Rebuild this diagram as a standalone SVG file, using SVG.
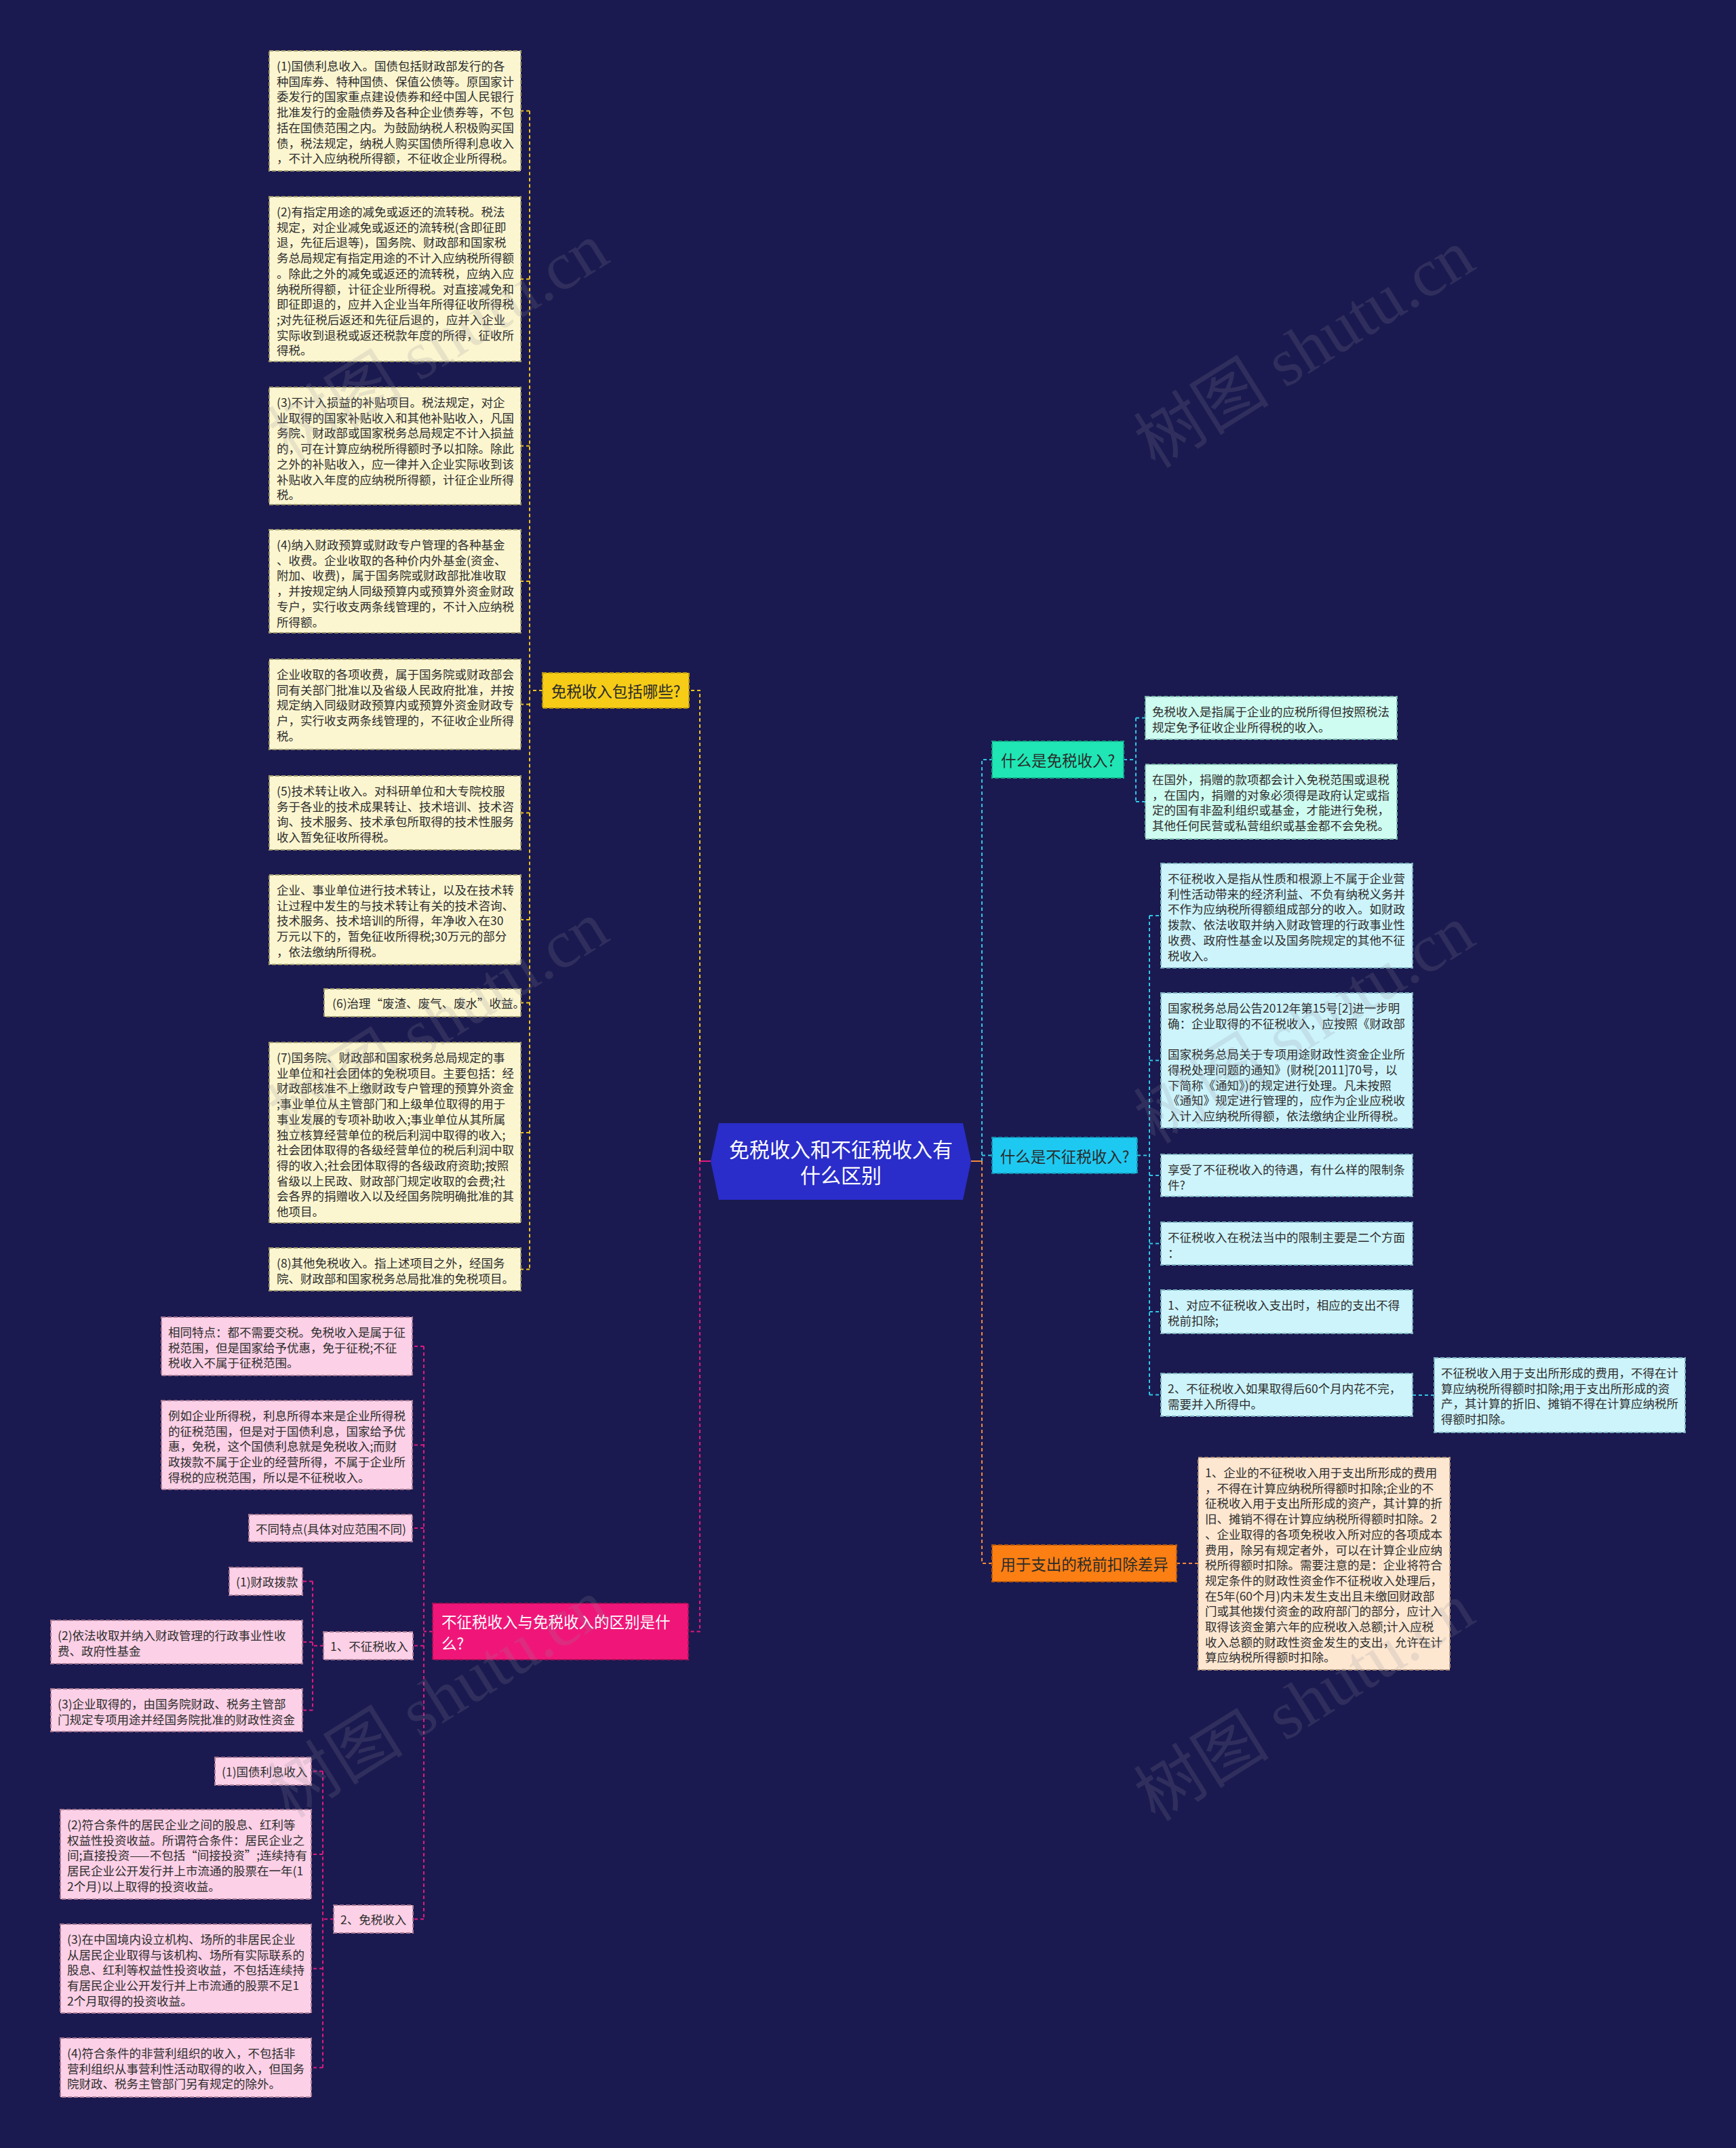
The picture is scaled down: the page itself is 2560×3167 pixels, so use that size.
<svg xmlns="http://www.w3.org/2000/svg" width="2560" height="3167" viewBox="0 0 2560 3167">
<style>
.t{font-family:"Noto Sans CJK SC","Noto Sans",sans-serif;font-size:17.5px;fill:#2e2e2e;dominant-baseline:central}
.n{font-family:"Noto Sans CJK SC","Noto Sans",sans-serif;font-size:22.5px;fill:#2a2a2a;dominant-baseline:central}
.box{stroke-width:2;stroke-dasharray:6 3}
.yb{fill:#fcf6d0;stroke:#a39c6e}
.tb{fill:#cefcf0;stroke:#7fb9ab}
.cb{fill:#cdf4fb;stroke:#7eb3c0}
.ob{fill:#fde7d1;stroke:#b89a80}
.pb{fill:#fcd0e6;stroke:#a87a94}
.c{fill:none;stroke-width:2;stroke-dasharray:5 4}
.cy{stroke:#f0c419}
.cc{stroke:#2ec6e6}
.co{stroke:#f2883a}
.cp{stroke:#e2197e}
.wm{font-family:"Liberation Serif","Noto Sans CJK SC",serif;font-size:100px;fill:#8c8c9c;opacity:0.18}
</style>
<rect x="0" y="0" width="2560" height="3167" fill="#1b1a50"/>

<g id="connectors">
  <!-- center stubs -->
  <path d="M1048,1712 H1032" stroke="#e2197e" stroke-width="2" fill="none"/>
  <path d="M1432,1712 H1448" stroke="#f2883a" stroke-width="2" fill="none"/>
  <!-- yellow branch -->
  <path class="c cy" d="M1032,1712 V1018 H1016"/>
  <path class="c cy" d="M800,1018 H781"/>
  <path class="c cy" d="M781,163.5 V1871.5"/>
  <path class="c cy" d="M781,163.5 H768 M781,411.5 H768 M781,657.5 H768 M781,857 H768 M781,1038.5 H768 M781,1198.5 H768 M781,1356 H768 M781,1478.5 H768 M781,1670 H768 M781,1871.5 H768"/>
  <!-- pink branch -->
  <path class="c cp" d="M1032,1712 V2405.5 H1015"/>
  <path class="c cp" d="M638,2405.5 H625"/>
  <path class="c cp" d="M625,1985 V2829.5"/>
  <path class="c cp" d="M625,1985 H608 M625,2130.5 H608 M625,2253 H608 M625,2426.5 H609 M625,2829.5 H609"/>
  <path class="c cp" d="M477,2426.5 H461 M461,2331.5 V2521.5 M461,2331.5 H446 M461,2421 H446 M461,2521.5 H446"/>
  <path class="c cp" d="M492,2829.5 H476 M476,2611.5 V3048.5 M476,2611.5 H459 M476,2734 H459 M476,2902.5 H459 M476,3048.5 H459"/>
  <!-- right cyan -->
  <path class="c cc" d="M1448,1712 V1120 H1463"/>
  <path class="c cc" d="M1448,1703.5 H1463"/>
  <path class="c cc" d="M1657,1120 H1675 M1675,1058.5 V1182 M1675,1058.5 H1689 M1675,1182 H1689"/>
  <path class="c cc" d="M1677,1703.5 H1695 M1695,1350 V2056.5 M1695,1350 H1712 M1695,1563.5 H1712 M1695,1733 H1712 M1695,1833.5 H1712 M1695,1934 H1712 M1695,2056.5 H1712 M2083,2057 H2115"/>
  <!-- right orange -->
  <path class="c co" d="M1448,1712 V2305 H1463"/>
  <path class="c co" d="M1735,2305 H1767"/>
</g>

<g id="center">
  <polygon points="1048,1712 1060,1656 1420,1656 1432,1712 1420,1769 1060,1769" fill="#2a2dc9"/>
  <text font-family="Noto Sans CJK SC, sans-serif" font-size="30" fill="#ffffff" text-anchor="middle" dominant-baseline="central"><tspan x="1240" y="1693">免税收入和不征税收入有</tspan><tspan x="1240" y="1731">什么区别</tspan></text>
</g>

<g id="n-yellow">
  <rect x="800" y="992" width="216" height="52" fill="#f6cc17" class="box" stroke="#b39412"/>
  <text class="n" x="908" y="1018" text-anchor="middle">免税收入包括哪些?</text>
</g>
<g id="y1"><rect class="box yb" x="397" y="75" width="371" height="177"/>
<text class="t"><tspan x="408" y="96">(1)国债利息收入。国债包括财政部发行的各</tspan><tspan x="408" dy="22.7">种国库券、特种国债、保值公债等。原国家计</tspan><tspan x="408" dy="22.7">委发行的国家重点建设债券和经中国人民银行</tspan><tspan x="408" dy="22.7">批准发行的金融债券及各种企业债券等，不包</tspan><tspan x="408" dy="22.7">括在国债范围之内。为鼓励纳税人积极购买国</tspan><tspan x="408" dy="22.7">债，税法规定，纳税人购买国债所得利息收入</tspan><tspan x="408" dy="22.7">，不计入应纳税所得额，不征收企业所得税。</tspan></text></g>
<g id="y2"><rect class="box yb" x="397" y="290" width="371" height="243"/>
<text class="t"><tspan x="408" y="311">(2)有指定用途的减免或返还的流转税。税法</tspan><tspan x="408" dy="22.7">规定，对企业减免或返还的流转税(含即征即</tspan><tspan x="408" dy="22.7">退，先征后退等)，国务院、财政部和国家税</tspan><tspan x="408" dy="22.7">务总局规定有指定用途的不计入应纳税所得额</tspan><tspan x="408" dy="22.7">。除此之外的减免或返还的流转税，应纳入应</tspan><tspan x="408" dy="22.7">纳税所得额，计征企业所得税。对直接减免和</tspan><tspan x="408" dy="22.7">即征即退的，应并入企业当年所得征收所得税</tspan><tspan x="408" dy="22.7">;对先征税后返还和先征后退的，应并入企业</tspan><tspan x="408" dy="22.7">实际收到退税或返还税款年度的所得，征收所</tspan><tspan x="408" dy="22.7">得税。</tspan></text></g>
<g id="y3"><rect class="box yb" x="397" y="571" width="371" height="173"/>
<text class="t"><tspan x="408" y="592">(3)不计入损益的补贴项目。税法规定，对企</tspan><tspan x="408" dy="22.7">业取得的国家补贴收入和其他补贴收入，凡国</tspan><tspan x="408" dy="22.7">务院、财政部或国家税务总局规定不计入损益</tspan><tspan x="408" dy="22.7">的，可在计算应纳税所得额时予以扣除。除此</tspan><tspan x="408" dy="22.7">之外的补贴收入，应一律并入企业实际收到该</tspan><tspan x="408" dy="22.7">补贴收入年度的应纳税所得额，计征企业所得</tspan><tspan x="408" dy="22.7">税。</tspan></text></g>
<g id="y4"><rect class="box yb" x="397" y="781" width="371" height="152"/>
<text class="t"><tspan x="408" y="802">(4)纳入财政预算或财政专户管理的各种基金</tspan><tspan x="408" dy="22.7">、收费。企业收取的各种价内外基金(资金、</tspan><tspan x="408" dy="22.7">附加、收费)，属于国务院或财政部批准收取</tspan><tspan x="408" dy="22.7">，并按规定纳人同级预算内或预算外资金财政</tspan><tspan x="408" dy="22.7">专户，实行收支两条线管理的，不计入应纳税</tspan><tspan x="408" dy="22.7">所得额。</tspan></text></g>
<g id="y5"><rect class="box yb" x="397" y="972" width="371" height="133"/>
<text class="t"><tspan x="408" y="993">企业收取的各项收费，属于国务院或财政部会</tspan><tspan x="408" dy="22.7">同有关部门批准以及省级人民政府批准，并按</tspan><tspan x="408" dy="22.7">规定纳入同级财政预算内或预算外资金财政专</tspan><tspan x="408" dy="22.7">户，实行收支两条线管理的，不征收企业所得</tspan><tspan x="408" dy="22.7">税。</tspan></text></g>
<g id="y6"><rect class="box yb" x="397" y="1144" width="371" height="109"/>
<text class="t"><tspan x="408" y="1165">(5)技术转让收入。对科研单位和大专院校服</tspan><tspan x="408" dy="22.7">务于各业的技术成果转让、技术培训、技术咨</tspan><tspan x="408" dy="22.7">询、技术服务、技术承包所取得的技术性服务</tspan><tspan x="408" dy="22.7">收入暂免征收所得税。</tspan></text></g>
<g id="y7"><rect class="box yb" x="397" y="1290" width="371" height="132"/>
<text class="t"><tspan x="408" y="1311">企业、事业单位进行技术转让，以及在技术转</tspan><tspan x="408" dy="22.7">让过程中发生的与技术转让有关的技术咨询、</tspan><tspan x="408" dy="22.7">技术服务、技术培训的所得，年净收入在30</tspan><tspan x="408" dy="22.7">万元以下的，暂免征收所得税;30万元的部分</tspan><tspan x="408" dy="22.7">，依法缴纳所得税。</tspan></text></g>
<g id="y8"><rect class="box yb" x="478" y="1458" width="290" height="41"/>
<text class="t" x="490" y="1478.5">(6)治理“废渣、废气、废水”收益。</text></g>
<g id="y9"><rect class="box yb" x="397" y="1537" width="371" height="266"/>
<text class="t"><tspan x="408" y="1558">(7)国务院、财政部和国家税务总局规定的事</tspan><tspan x="408" dy="22.7">业单位和社会团体的免税项目。主要包括：经</tspan><tspan x="408" dy="22.7">财政部核准不上缴财政专户管理的预算外资金</tspan><tspan x="408" dy="22.7">;事业单位从主管部门和上级单位取得的用于</tspan><tspan x="408" dy="22.7">事业发展的专项补助收入;事业单位从其所属</tspan><tspan x="408" dy="22.7">独立核算经营单位的税后利润中取得的收入;</tspan><tspan x="408" dy="22.7">社会团体取得的各级经营单位的税后利润中取</tspan><tspan x="408" dy="22.7">得的收入;社会团体取得的各级政府资助;按照</tspan><tspan x="408" dy="22.7">省级以上民政、财政部门规定收取的会费;社</tspan><tspan x="408" dy="22.7">会各界的捐赠收入以及经国务院明确批准的其</tspan><tspan x="408" dy="22.7">他项目。</tspan></text></g>
<g id="y10"><rect class="box yb" x="397" y="1840" width="371" height="63"/>
<text class="t"><tspan x="408" y="1861">(8)其他免税收入。指上述项目之外，经国务</tspan><tspan x="408" dy="22.7">院、财政部和国家税务总局批准的免税项目。</tspan></text></g>

<g id="n-teal">
  <rect x="1463" y="1093" width="194" height="54" fill="#1fe6b4" class="box" stroke="#16a884"/>
  <text class="n" x="1560" y="1120" text-anchor="middle">什么是免税收入?</text>
</g>
<g id="t1"><rect class="box tb" x="1689" y="1027" width="371" height="63"/>
<text class="t"><tspan x="1699" y="1048">免税收入是指属于企业的应税所得但按照税法</tspan><tspan x="1699" dy="22.7">规定免予征收企业所得税的收入。</tspan></text></g>
<g id="t2"><rect class="box tb" x="1689" y="1127" width="371" height="110"/>
<text class="t"><tspan x="1699" y="1148">在国外，捐赠的款项都会计入免税范围或退税</tspan><tspan x="1699" dy="22.7">，在国内，捐赠的对象必须得是政府认定或指</tspan><tspan x="1699" dy="22.7">定的国有非盈利组织或基金，才能进行免税，</tspan><tspan x="1699" dy="22.7">其他任何民营或私营组织或基金都不会免税。</tspan></text></g>

<g id="n-cyan">
  <rect x="1463" y="1677" width="214" height="53" fill="#1ec9f1" class="box" stroke="#1490b0"/>
  <text class="n" x="1570" y="1703.5" text-anchor="middle">什么是不征税收入?</text>
</g>
<g id="c1"><rect class="box cb" x="1712" y="1273" width="371" height="154"/>
<text class="t"><tspan x="1722" y="1294">不征税收入是指从性质和根源上不属于企业营</tspan><tspan x="1722" dy="22.7">利性活动带来的经济利益、不负有纳税义务并</tspan><tspan x="1722" dy="22.7">不作为应纳税所得额组成部分的收入。如财政</tspan><tspan x="1722" dy="22.7">拨款、依法收取并纳入财政管理的行政事业性</tspan><tspan x="1722" dy="22.7">收费、政府性基金以及国务院规定的其他不征</tspan><tspan x="1722" dy="22.7">税收入。</tspan></text></g>
<g id="c2"><rect class="box cb" x="1712" y="1464" width="371" height="199"/>
<text class="t"><tspan x="1722" y="1485">国家税务总局公告2012年第15号[2]进一步明</tspan><tspan x="1722" dy="22.7">确：企业取得的不征税收入，应按照《财政部</tspan><tspan x="1722" dy="45.4">国家税务总局关于专项用途财政性资金企业所</tspan><tspan x="1722" dy="22.7">得税处理问题的通知》(财税[2011]70号，以</tspan><tspan x="1722" dy="22.7">下简称《通知》)的规定进行处理。凡未按照</tspan><tspan x="1722" dy="22.7">《通知》规定进行管理的，应作为企业应税收</tspan><tspan x="1722" dy="22.7">入计入应纳税所得额，依法缴纳企业所得税。</tspan></text></g>
<g id="c3"><rect class="box cb" x="1712" y="1702" width="371" height="62"/>
<text class="t"><tspan x="1722" y="1723">享受了不征税收入的待遇，有什么样的限制条</tspan><tspan x="1722" dy="22.7">件?</tspan></text></g>
<g id="c4"><rect class="box cb" x="1712" y="1802" width="371" height="63"/>
<text class="t"><tspan x="1722" y="1823">不征税收入在税法当中的限制主要是二个方面</tspan><tspan x="1722" dy="22.7">：</tspan></text></g>
<g id="c5"><rect class="box cb" x="1712" y="1902" width="371" height="64"/>
<text class="t"><tspan x="1722" y="1923">1、对应不征税收入支出时，相应的支出不得</tspan><tspan x="1722" dy="22.7">税前扣除;</tspan></text></g>
<g id="c6"><rect class="box cb" x="1712" y="2025" width="371" height="63"/>
<text class="t"><tspan x="1722" y="2046">2、不征税收入如果取得后60个月内花不完，</tspan><tspan x="1722" dy="22.7">需要并入所得中。</tspan></text></g>
<g id="c7"><rect class="box cb" x="2115" y="2002" width="370" height="110"/>
<text class="t"><tspan x="2125" y="2023">不征税收入用于支出所形成的费用，不得在计</tspan><tspan x="2125" dy="22.7">算应纳税所得额时扣除;用于支出所形成的资</tspan><tspan x="2125" dy="22.7">产，其计算的折旧、摊销不得在计算应纳税所</tspan><tspan x="2125" dy="22.7">得额时扣除。</tspan></text></g>

<g id="n-orange">
  <rect x="1463" y="2278" width="272" height="54" fill="#fb7f13" class="box" stroke="#b85a0c"/>
  <text class="n" x="1599" y="2305" text-anchor="middle">用于支出的税前扣除差异</text>
</g>
<g id="o1"><rect class="box ob" x="1767" y="2149" width="371" height="313"/>
<text class="t"><tspan x="1777" y="2170">1、企业的不征税收入用于支出所形成的费用</tspan><tspan x="1777" dy="22.7">，不得在计算应纳税所得额时扣除;企业的不</tspan><tspan x="1777" dy="22.7">征税收入用于支出所形成的资产，其计算的折</tspan><tspan x="1777" dy="22.7">旧、摊销不得在计算应纳税所得额时扣除。2</tspan><tspan x="1777" dy="22.7">、企业取得的各项免税收入所对应的各项成本</tspan><tspan x="1777" dy="22.7">费用，除另有规定者外，可以在计算企业应纳</tspan><tspan x="1777" dy="22.7">税所得额时扣除。需要注意的是：企业将符合</tspan><tspan x="1777" dy="22.7">规定条件的财政性资金作不征税收入处理后，</tspan><tspan x="1777" dy="22.7">在5年(60个月)内未发生支出且未缴回财政部</tspan><tspan x="1777" dy="22.7">门或其他拨付资金的政府部门的部分，应计入</tspan><tspan x="1777" dy="22.7">取得该资金第六年的应税收入总额;计入应税</tspan><tspan x="1777" dy="22.7">收入总额的财政性资金发生的支出，允许在计</tspan><tspan x="1777" dy="22.7">算应纳税所得额时扣除。</tspan></text></g>

<g id="n-pink">
  <rect x="638" y="2364" width="377" height="83" fill="#f01679" class="box" stroke="#a80e54"/>
  <text class="n" style="fill:#ffffff"><tspan x="651" y="2390">不征税收入与免税收入的区别是什</tspan><tspan x="651" y="2422">么?</tspan></text>
</g>
<g id="p1"><rect class="box pb" x="238" y="1942" width="370" height="86"/>
<text class="t"><tspan x="248" y="1963">相同特点：都不需要交税。免税收入是属于征</tspan><tspan x="248" dy="22.7">税范围，但是国家给予优惠，免于征税;不征</tspan><tspan x="248" dy="22.7">税收入不属于征税范围。</tspan></text></g>
<g id="p2"><rect class="box pb" x="238" y="2065" width="370" height="131"/>
<text class="t"><tspan x="248" y="2086">例如企业所得税，利息所得本来是企业所得税</tspan><tspan x="248" dy="22.7">的征税范围，但是对于国债利息，国家给予优</tspan><tspan x="248" dy="22.7">惠，免税，这个国债利息就是免税收入;而财</tspan><tspan x="248" dy="22.7">政拨款不属于企业的经营所得，不属于企业所</tspan><tspan x="248" dy="22.7">得税的应税范围，所以是不征税收入。</tspan></text></g>
<g id="p3"><rect class="box pb" x="367" y="2233" width="241" height="40"/>
<text class="t" x="377" y="2253">不同特点(具体对应范围不同)</text></g>
<g id="n1"><rect class="box pb" x="477" y="2406" width="132" height="41"/>
<text class="t" x="487" y="2426.5">1、不征税收入</text></g>
<g id="n1a"><rect class="box pb" x="338" y="2311" width="108" height="41"/>
<text class="t" x="348" y="2331.5">(1)财政拨款</text></g>
<g id="n1b"><rect class="box pb" x="75" y="2389" width="371" height="64"/>
<text class="t"><tspan x="85" y="2410">(2)依法收取并纳入财政管理的行政事业性收</tspan><tspan x="85" dy="22.7">费、政府性基金</tspan></text></g>
<g id="n1c"><rect class="box pb" x="75" y="2490" width="371" height="63"/>
<text class="t"><tspan x="85" y="2511">(3)企业取得的，由国务院财政、税务主管部</tspan><tspan x="85" dy="22.7">门规定专项用途并经国务院批准的财政性资金</tspan></text></g>
<g id="n2"><rect class="box pb" x="492" y="2809" width="117" height="41"/>
<text class="t" x="502" y="2829.5">2、免税收入</text></g>
<g id="n2a"><rect class="box pb" x="317" y="2591" width="142" height="41"/>
<text class="t" x="327" y="2611.5">(1)国债利息收入</text></g>
<g id="n2b"><rect class="box pb" x="89" y="2668" width="370" height="132"/>
<text class="t"><tspan x="99" y="2689">(2)符合条件的居民企业之间的股息、红利等</tspan><tspan x="99" dy="22.7">权益性投资收益。所谓符合条件：居民企业之</tspan><tspan x="99" dy="22.7">间;直接投资——不包括“间接投资”;连续持有</tspan><tspan x="99" dy="22.7">居民企业公开发行并上市流通的股票在一年(1</tspan><tspan x="99" dy="22.7">2个月)以上取得的投资收益。</tspan></text></g>
<g id="n2c"><rect class="box pb" x="89" y="2837" width="370" height="131"/>
<text class="t"><tspan x="99" y="2858">(3)在中国境内设立机构、场所的非居民企业</tspan><tspan x="99" dy="22.7">从居民企业取得与该机构、场所有实际联系的</tspan><tspan x="99" dy="22.7">股息、红利等权益性投资收益，不包括连续持</tspan><tspan x="99" dy="22.7">有居民企业公开发行并上市流通的股票不足1</tspan><tspan x="99" dy="22.7">2个月取得的投资收益。</tspan></text></g>
<g id="n2d"><rect class="box pb" x="89" y="3005" width="370" height="87"/>
<text class="t"><tspan x="99" y="3026">(4)符合条件的非营利组织的收入，不包括非</tspan><tspan x="99" dy="22.7">营利组织从事营利性活动取得的收入，但国务</tspan><tspan x="99" dy="22.7">院财政、税务主管部门另有规定的除外。</tspan></text></g>

<g id="watermarks">
  <text class="wm" text-anchor="middle" dominant-baseline="central" transform="translate(647,505) rotate(-32)">树图 shutu.cn</text>
  <text class="wm" text-anchor="middle" dominant-baseline="central" transform="translate(1924,515) rotate(-32)">树图 shutu.cn</text>
  <text class="wm" text-anchor="middle" dominant-baseline="central" transform="translate(647,1505) rotate(-32)">树图 shutu.cn</text>
  <text class="wm" text-anchor="middle" dominant-baseline="central" transform="translate(1924,1511) rotate(-32)">树图 shutu.cn</text>
  <text class="wm" text-anchor="middle" dominant-baseline="central" transform="translate(647,2505) rotate(-32)">树图 shutu.cn</text>
  <text class="wm" text-anchor="middle" dominant-baseline="central" transform="translate(1924,2510) rotate(-32)">树图 shutu.cn</text>
</g>
</svg>
